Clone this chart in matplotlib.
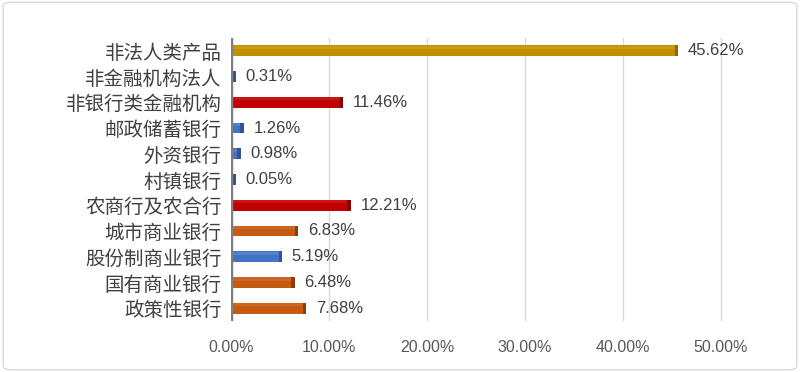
import matplotlib.pyplot as plt
from matplotlib.patches import FancyBboxPatch

# Datos (de abajo hacia arriba)
categorias = ['政策性银行', '国有商业银行', '股份制商业银行', '城市商业银行', '农商行及农合行',
              '村镇银行', '外资银行', '邮政储蓄银行', '非银行类金融机构', '非金融机构法人', '非法人类产品']
valores = [7.68, 6.48, 5.19, 6.83, 12.21, 0.05, 0.98, 1.26, 11.46, 0.31, 45.62]
grupos = ['naranja', 'naranja', 'azul', 'naranja', 'rojo', 'azul', 'azul', 'azul', 'rojo', 'azul', 'oro']

colores = {'oro': ('#BF8F00', '#8C6900', '#D9A816'),
           'azul': ('#4472C4', '#2F5597', '#6D93D8'),
           'rojo': ('#C00000', '#860000', '#D42A2A'),
           'naranja': ('#C55A11', '#8A3E0B', '#D8753A')}

plt.rcParams['font.family'] = ['Noto Sans CJK SC', 'DejaVu Sans']

fig = plt.figure(figsize=(8, 3.72), dpi=100)
ax = fig.add_axes([0.289, 0.137, 0.661, 0.761])

y = list(range(len(categorias)))
alto = 0.42
for yi, v, g in zip(y, valores, grupos):
    base, oscuro, claro = colores[g]
    ax.barh(yi, v, height=alto, color=base, zorder=3)
    # franja superior clara y tapa final oscura (efecto 3D)
    ax.barh(yi + alto * 0.32, v, height=alto * 0.3, color=claro, alpha=0.45, zorder=3, linewidth=0)
    fin = max(v, 0.45)
    ax.barh(yi, 0.35, left=fin - 0.35, height=alto, color=oscuro, zorder=4)
    ax.annotate(f'{v:.2f}%', xy=(fin, yi), xytext=(7, 0), textcoords='offset points',
                va='center', ha='left', fontsize=12, color='#404040',
                family=['Liberation Sans', 'DejaVu Sans'])

# pared izquierda gris
ax.axvline(0, color='#7F7F7F', linewidth=3.2, zorder=5)
ax.axvline(-0.25, color='#BFBFBF', linewidth=0.8, zorder=5)

ax.set_xlim(0, 54)
ax.set_ylim(-0.5, len(categorias) - 0.5)
ax.set_xticks([0, 10, 20, 30, 40, 50])
ax.set_xticklabels(['0.00%', '10.00%', '20.00%', '30.00%', '40.00%', '50.00%'],
                   family=['Liberation Sans', 'DejaVu Sans'])
ax.set_yticks(y)
ax.set_yticklabels(categorias)
ax.tick_params(axis='x', length=0, pad=14, labelsize=11.5, labelcolor='#595959')
ax.tick_params(axis='y', length=0, pad=7, labelsize=14, labelcolor='#404040')
ax.grid(axis='x', color='#D9D9D9', linewidth=1, zorder=0)
for s in ax.spines.values():
    s.set_visible(False)

# borde de la figura
borde = FancyBboxPatch((0.004, 0.006), 0.992, 0.988, boxstyle='round,pad=0,rounding_size=0.01',
                       transform=fig.transFigure, facecolor='none', edgecolor='#D9D9D9', linewidth=1)
fig.patches.append(borde)

fig.savefig('out.png', dpi=100)
